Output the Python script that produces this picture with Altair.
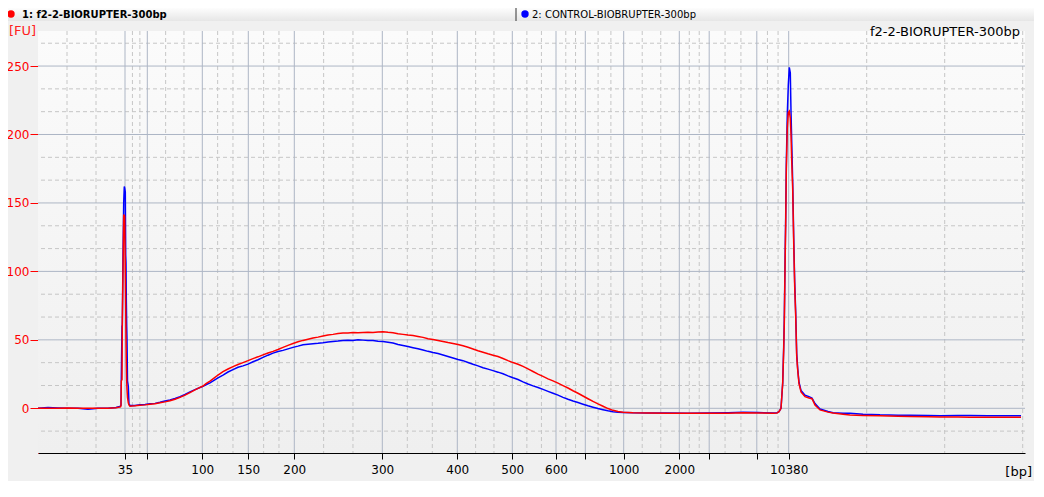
import altair as alt
import pandas as pd

# ---------------- data ----------------
# ladder peaks (bp) and their migration times (s)
ladder_bp = [35, 50, 100, 150, 200, 300, 400, 500, 600, 700, 1000, 2000, 3000, 7000, 10380]
ladder_label = ["35", "", "100", "150", "200", "300", "400", "500", "600", "", "1000", "2000", "", "", "10380"]
ladder_time = [48.70, 50.93, 56.43, 61.03, 65.63, 74.43, 81.93, 87.43, 91.80, 94.73,
               98.57, 104.13, 107.12, 111.88, 115.07]
tail_minor = [122.87, 130.67, 138.47]
x_start, x_end = 40.0, 138.7
fu_ticks = [0, 50, 100, 150, 200, 250]
y_lo, y_hi = -32.65, 275.6

time_s = [40.0, 41.0, 42.0, 43.0, 44.0, 45.0, 46.0, 47.0, 47.8, 48.25, 48.30, 48.33, 48.40, 48.43,
          48.50, 48.57, 48.63, 48.67, 48.73, 48.77, 48.80, 48.83, 48.87, 48.90, 48.95, 49.03,
          49.10, 49.20, 49.7, 50.2, 50.7, 51.2, 51.7, 52.2, 52.7, 53.2, 53.7, 54.2, 54.7, 55.2,
          55.7, 56.2, 56.5, 56.8, 57.2, 57.6, 58.0, 58.5, 59.0, 59.5, 60.0, 60.5, 61.0, 61.5,
          62.0, 62.5, 63.0, 63.5, 64.0, 64.5, 65.0, 65.5, 66.0, 66.5, 67.0, 67.5, 68.0, 68.5,
          69.0, 69.5, 70.0, 70.5, 71.0, 71.5, 72.0, 72.5, 73.0, 73.5, 74.0, 74.5, 75.0, 75.5,
          76.0, 76.5, 77.0, 77.5, 78.0, 78.5, 79.0, 79.5, 80.0, 80.5, 81.0, 81.5, 82.0, 82.5,
          83.0, 83.5, 84.0, 84.5, 85.0, 85.5, 86.0, 86.5, 87.0, 87.5, 88.0, 88.5, 89.0, 89.5,
          90.0, 90.5, 91.0, 91.5, 92.0, 92.5, 93.0, 93.5, 94.0, 94.5, 95.0, 95.5, 96.0, 96.5,
          97.0, 97.5, 98.0, 98.5, 99.5, 101.0, 103.0, 105.0, 107.0, 109.0, 110.5, 112.0, 113.5,
          113.9, 114.1, 114.3, 114.37, 114.47, 114.57, 114.63, 114.70, 114.77, 114.83, 114.93,
          115.03, 115.13, 115.23, 115.30, 115.37, 115.47, 115.57, 115.67, 115.77, 115.87,
          115.97, 116.10, 116.30, 116.70, 117.10, 117.40, 117.70, 118.20, 119.00, 119.50,
          120.50, 121.20, 122.50, 124.20, 126.0, 127.2, 129.0, 130.2, 132.0, 133.2, 135.0,
          136.2, 138.3]

fu_f2 = [0.0, 0.1, 0.0, 0.2, 0.0, 0.0, 0.1, 0.0, 0.4, 1.0, 2.0, 20.0, 21.0, 61.0,
         100.0, 141.0, 141.0, 140.0, 100.0, 75.0, 50.0, 35.0, 20.0, 14.0, 8.0, 4.0,
         2.5, 1.5, 1.8, 2.2, 2.5, 3.0, 3.4, 4.0, 4.7, 5.5, 6.6, 8.0, 9.6, 11.5,
         13.4, 15.3, 16.3, 18.0, 19.8, 22.0, 24.3, 26.8, 28.7, 30.4, 32.0, 33.4, 34.8, 36.3,
         37.6, 39.0, 40.4, 41.6, 43.0, 44.5, 46.0, 47.3, 48.6, 49.6, 50.5, 51.3, 52.0, 52.8,
         53.6, 54.0, 54.6, 55.0, 55.0, 55.3, 55.2, 55.4, 55.5, 55.3, 55.8, 56.0, 55.5, 55.2,
         54.5, 54.0, 53.5, 53.1, 52.5, 51.8, 50.8, 50.2, 49.5, 48.8, 48.0, 47.4, 46.6, 45.7,
         44.6, 43.3, 42.0, 40.9, 39.8, 38.8, 37.8, 36.4, 34.8, 33.4, 32.2, 30.6, 28.8, 26.9,
         25.0, 23.3, 21.5, 20.0, 18.4, 16.6, 14.8, 12.8, 11.0, 9.0, 7.0, 5.0, 3.2, 1.5,
         -0.2, -1.5, -2.3, -2.9, -3.3, -3.5, -3.6, -3.7, -3.7, -3.6, -3.3, -3.4, -3.6,
         -3.5, -2.5, 0.0, 7.5, 18.5, 42.6, 62.0, 101.0, 135.0, 173.0, 205.0,
         216.0, 217.0, 212.0, 200.0, 181.0, 160.0, 121.0, 89.0, 67.0, 38.0,
         28.0, 18.0, 12.0, 8.5, 7.5, 7.0, 2.4, -1.2, -2.8, -3.5,
         -4.3, -4.9, -5.2, -5.5, -5.8, -6.0, -6.1, -6.3, -6.4, -6.5, -6.6,
         -6.6, -6.6]

fu_ctrl = [0.0, 0.5, 0.2, 0.0, 0.1, -0.6, 0.0, 0.1, 0.6, 1.5, 2.5, 21.0, 60.0, 60.0,
           112.0, 150.0, 162.0, 161.0, 158.0, 112.0, 106.0, 80.0, 60.0, 50.0, 20.0, 16.0,
           3.0, 2.0, 2.1, 2.6, 2.8, 3.3, 3.6, 4.4, 5.3, 6.1, 7.2, 8.4, 10.1, 12.0,
           13.6, 15.2, 16.0, 17.2, 18.6, 20.4, 22.3, 24.3, 26.5, 28.3, 30.0, 31.0, 32.3, 34.0,
           35.5, 37.2, 38.8, 40.3, 41.5, 42.3, 43.4, 44.5, 45.4, 46.4, 46.8, 47.2, 47.5, 47.9,
           48.4, 48.8, 49.1, 49.5, 49.7, 49.5, 50.0, 49.8, 49.6, 49.5, 49.0, 48.8, 48.3, 47.7,
           46.6, 45.9, 45.1, 44.3, 43.5, 42.6, 41.6, 40.7, 40.0, 39.0, 37.9, 36.8, 35.7, 34.8,
           33.5, 32.2, 31.0, 29.6, 28.6, 27.5, 26.4, 25.2, 23.7, 22.3, 21.0, 19.3, 17.8, 16.4,
           15.2, 13.8, 12.4, 11.0, 9.6, 8.0, 6.6, 5.3, 4.2, 3.0, 1.8, 0.8, -0.2, -1.0,
           -1.8, -2.5, -2.8, -3.0, -3.3, -3.4, -3.5, -3.6, -3.5, -3.2, -2.8, -3.1, -3.4,
           -3.2, -2.5, 0.0, 7.5, 18.5, 45.0, 65.0, 105.0, 140.0, 178.0, 215.0,
           236.0, 249.0, 245.0, 217.0, 195.0, 165.0, 125.0, 92.0, 70.0, 40.0,
           29.0, 19.0, 13.0, 9.5, 8.5, 7.5, 3.5, -0.5, -2.4, -3.2,
           -3.6, -3.7, -4.3, -4.8, -5.0, -5.0, -5.2, -5.4, -5.3, -5.3, -5.4,
           -5.4, -5.4]

sample_names = ["1: f2-2-BIORUPTER-300bp", "2: CONTROL-BIOBRUPTER-300bp"]
plot_title = "f2-2-BIORUPTER-300bp"

# ---------------- layout ----------------
W, H = 987, 422
PAD = {"left": 30, "top": 23, "right": 9, "bottom": 28}
FONT = "DejaVu Sans"

# derived grid positions
edges = [x_start] + ladder_time
minor_x = []
for a, b in zip(edges[:-1], edges[1:]):
    minor_x += [a + (b - a) / 3, a + 2 * (b - a) / 3]
minor_x += tail_minor
minor_y = []
for v in [-50] + fu_ticks:
    for f in (1 / 3, 2 / 3):
        val = v + 50 * f
        if y_lo < val < y_hi:
            minor_y.append(val)

label_expr = ""
for t, l in zip(ladder_time, ladder_label):
    label_expr += f"abs(datum.value - {t}) < 0.005 ? '{l}' : "
label_expr += "''"

xs = alt.Scale(domain=[x_start, x_end], nice=False, zero=False)
ys = alt.Scale(domain=[y_lo, y_hi], nice=False, zero=False)

x_axis = alt.Axis(values=ladder_time, labelExpr=label_expr, grid=False, title=None,
                  domainColor="#000000", tickColor="#000000", tickSize=6, labelColor="#000000",
                  labelFont=FONT, labelFontSize=12, labelPadding=5, labelOverlap=False,
                  labelFlush=False)
y_axis = alt.Axis(values=fu_ticks, grid=False, title=None, domainColor="#ff0000",
                  tickColor="#ff0000", tickSize=8, labelColor="#ff0000", labelFont=FONT,
                  labelFontSize=12, labelPadding=1, labelOverlap=False)

one = pd.DataFrame({"k": [0]})
df = pd.DataFrame({"t": time_s, "f2": fu_f2, "ctrl": fu_ctrl})

grad = alt.Gradient(gradient="linear",
                    stops=[alt.GradientStop(color="#fbfbfb", offset=0),
                           alt.GradientStop(color="#efefef", offset=1)],
                    x1=0, x2=0, y1=0, y2=1)
bg = alt.Chart(one).mark_rect(fill=grad).encode(
    x=alt.value(0), x2=alt.value(W), y=alt.value(0), y2=alt.value(H))

minor_v = alt.Chart(pd.DataFrame({"t": minor_x})).mark_rule(
    color="#c6c6c6", strokeDash=[4, 3], strokeWidth=1).encode(
    x=alt.X("t:Q", scale=xs, axis=x_axis))
major_v = alt.Chart(pd.DataFrame({"t": ladder_time})).mark_rule(
    color="#adb6c5", strokeWidth=1).encode(x=alt.X("t:Q", scale=xs, axis=x_axis))
minor_h = alt.Chart(pd.DataFrame({"v": minor_y})).mark_rule(
    color="#c6c6c6", strokeDash=[4, 3], strokeWidth=1).encode(
    y=alt.Y("v:Q", scale=ys, axis=y_axis))
major_h = alt.Chart(pd.DataFrame({"v": fu_ticks})).mark_rule(
    color="#adb6c5", strokeWidth=1).encode(y=alt.Y("v:Q", scale=ys, axis=y_axis))

line_ctrl = alt.Chart(df).mark_line(color="#0000ff", strokeWidth=1.5).encode(
    x=alt.X("t:Q", scale=xs, axis=x_axis), y=alt.Y("ctrl:Q", scale=ys, axis=y_axis))
line_f2 = alt.Chart(df).mark_line(color="#ff0000", strokeWidth=1.5).encode(
    x=alt.X("t:Q", scale=xs, axis=x_axis), y=alt.Y("f2:Q", scale=ys, axis=y_axis))

# header bar with sample legend
hgrad = alt.Gradient(gradient="linear",
                     stops=[alt.GradientStop(color="#fdfdfd", offset=0),
                            alt.GradientStop(color="#e6e6e6", offset=1)],
                     x1=0, x2=0, y1=0, y2=1)
header = alt.Chart(one).mark_rect(fill=hgrad).encode(
    x=alt.value(-30), x2=alt.value(W + 9), y=alt.value(-23), y2=alt.value(-10))
sep = alt.Chart(one).mark_rule(color="#333333", strokeWidth=1).encode(
    x=alt.value(478), y=alt.value(-23), y2=alt.value(-10))
dot1 = alt.Chart(one).mark_point(filled=True, shape="circle", size=55, color="#ff0000",
                                 opacity=1).encode(x=alt.value(-27), y=alt.value(-17))
dot2 = alt.Chart(one).mark_point(filled=True, shape="circle", size=55, color="#0000ff",
                                 opacity=1).encode(x=alt.value(487), y=alt.value(-17))
txt1 = alt.Chart(one).mark_text(text=sample_names[0], font=FONT, fontSize=10, fontWeight="bold",
                                align="left", baseline="middle", color="#000000").encode(
    x=alt.value(-16), y=alt.value(-16.5))
txt2 = alt.Chart(one).mark_text(text=sample_names[1], font=FONT, fontSize=10,
                                align="left", baseline="middle", color="#000000").encode(
    x=alt.value(494), y=alt.value(-16.5))
fu_lbl = alt.Chart(one).mark_text(text="[FU]", font=FONT, fontSize=13, align="left",
                                  baseline="alphabetic", color="#ff2020").encode(
    x=alt.value(-29), y=alt.value(4))
bp_lbl = alt.Chart(one).mark_text(text="[bp]", font=FONT, fontSize=13, align="right",
                                  baseline="alphabetic", color="#000000").encode(
    x=alt.value(W + 7), y=alt.value(445))
title_lbl = alt.Chart(one).mark_text(text=plot_title, font=FONT, fontSize=13, align="right",
                                     baseline="alphabetic", color="#000000").encode(
    x=alt.value(982), y=alt.value(5))

chart = alt.layer(
    bg, minor_v, minor_h, major_v, major_h, line_ctrl, line_f2,
    header, sep, dot1, dot2, txt1, txt2, fu_lbl, bp_lbl, title_lbl
).properties(
    width=W, height=H, padding=PAD, autosize=alt.AutoSizeParams(type="none")
).configure(background="#f0f0f0").configure_view(stroke=None)

chart.save("out.html", embed_options={"renderer": "svg", "actions": False})
